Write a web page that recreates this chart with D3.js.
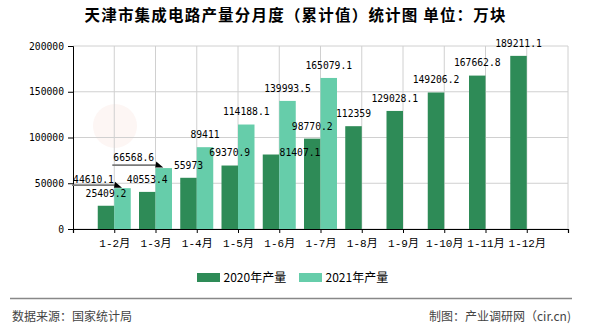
<!DOCTYPE html>
<html>
<head>
<meta charset="utf-8">
<script src="https://cdn.jsdelivr.net/npm/d3@7/dist/d3.min.js"></script>
<style>
  html, body { margin: 0; padding: 0; background: #fff; }
  svg { display: block; }
</style>
</head>
<body>
<svg id="chart" width="590" height="330"></svg>
<script>
// ---- data ----
const categories = ["1-2月","1-3月","1-4月","1-5月","1-6月","1-7月","1-8月","1-9月","1-10月","1-11月","1-12月"];
const values2020 = [25409.2, 40553.4, 55973, 69370.9, 81407.1, 98770.2, 112359, 129028.1, 149206.2, 167662.8, 189211.1];
const values2021 = [44610.1, 66568.6, 89411, 114188.1, 139993.5, 165079.1];
const yTicks = [0, 50000, 100000, 150000, 200000];
const seriesNames = ["2020年产量", "2021年产量"];
const titleText = "天津市集成电路产量分月度（累计值）统计图 单位：万块";
const sourceText = "数据来源：国家统计局";
const makerText = "制图：产业调研网（cir.cn)";

// ---- layout (label nudges, not data) ----
const shift2020 = {4: [29, 11]};
const shift2021 = {0: [-29, 4], 1: [-30, 2]};
const leaderFor2021 = [0, 1];

const colors = ["#2e8b57", "#66cdaa"];
const pL = 73, pR = 568, pT = 46, pB = 229;
const svg = d3.select("#chart");
const monoFont = "'DejaVu Sans Mono', 'Liberation Mono', monospace";
const cjkFont = "'Noto Sans CJK SC', sans-serif";

const x = d3.scalePoint().domain(categories).range([pL, pR]).padding(1);
const y = d3.scaleLinear().domain([0, 200000]).range([pB, pT]);
const barW = 16.5;

// faint watermark logo
svg.append("circle").attr("cx", 115).attr("cy", 126).attr("r", 22).attr("fill", "#fdf6f4");

// grid
svg.append("g").selectAll("line").data(yTicks).join("line")
  .attr("x1", pL).attr("x2", pR).attr("y1", d => y(d)).attr("y2", d => y(d))
  .attr("stroke", "#d0d0d0").attr("stroke-width", 1);
svg.append("g").selectAll("line").data(categories.concat(["__end"])).join("line")
  .attr("x1", d => d === "__end" ? pR : x(d)).attr("x2", d => d === "__end" ? pR : x(d))
  .attr("y1", pT).attr("y2", pB)
  .attr("stroke", "#d0d0d0").attr("stroke-width", 1);

// bars
svg.append("g").selectAll("rect").data(values2020).join("rect")
  .attr("x", (d, i) => x(categories[i]) - barW).attr("width", barW)
  .attr("y", d => y(d)).attr("height", d => pB - y(d)).attr("fill", colors[0]);
svg.append("g").selectAll("rect").data(values2021).join("rect")
  .attr("x", (d, i) => x(categories[i])).attr("width", barW)
  .attr("y", d => y(d)).attr("height", d => pB - y(d)).attr("fill", colors[1]);

// axes
const yAxis = d3.axisLeft(y).tickValues(yTicks).tickSize(5).tickPadding(4).tickFormat(d3.format("d"));
const gy = svg.append("g").attr("transform", `translate(${pL},0)`).call(yAxis);
gy.select(".domain").attr("stroke", "#000");
gy.selectAll(".tick line").attr("stroke", "#000");
gy.selectAll("text").attr("font-family", monoFont).attr("font-size", 9.7).attr("fill", "#000");

const xAxis = d3.axisBottom(x).tickSize(4).tickSizeOuter(4).tickPadding(6);
const gx = svg.append("g").attr("transform", `translate(0,${pB})`).call(xAxis);
gx.select(".domain").attr("stroke", "#000").attr("stroke-width", 1.2);
gx.selectAll(".tick line").attr("stroke", "#000");
gx.selectAll("text").attr("font-family", "'Liberation Mono', 'Noto Sans CJK SC', monospace")
  .attr("font-size", 11).attr("fill", "#000");

// data labels
function labelPos(v, i, series) {
  const cx = series === 0 ? x(categories[i]) - barW / 2 : x(categories[i]) + barW / 2;
  const sh = (series === 0 ? shift2020 : shift2021)[i] || [0, 0];
  return [cx + sh[0], y(v) - 12.5 + sh[1]];
}
const lab = svg.append("g").attr("font-family", monoFont).attr("font-size", 9.7).attr("fill", "#000").attr("text-anchor", "middle");
const fmt = v => String(v);
lab.selectAll("text.a").data(values2020).join("text").attr("class", "a")
  .attr("x", (d, i) => labelPos(d, i, 0)[0]).attr("y", (d, i) => labelPos(d, i, 0)[1])
  .attr("dy", "0.35em").text(fmt);
lab.selectAll("text.b").data(values2021).join("text").attr("class", "b")
  .attr("x", (d, i) => labelPos(d, i, 1)[0]).attr("y", (d, i) => labelPos(d, i, 1)[1])
  .attr("dy", "0.35em").text(fmt);

// leader lines
const lead = svg.append("g");
leaderFor2021.forEach(i => {
  const v = values2021[i];
  const [lx, ly] = labelPos(v, i, 1);
  const w = fmt(v).length * 5.84;
  const tipX = x(categories[i]) + barW / 2 - 0.5, tipY = y(v) - 0.5;
  const lineY = tipY - 2.5;
  lead.append("line").attr("x1", lx - w / 2 - 1).attr("x2", tipX - 6).attr("y1", lineY).attr("y2", lineY)
    .attr("stroke", "#7a7a7a").attr("stroke-width", 1.8);
  lead.append("path").attr("d", `M${tipX - 7},${tipY - 6} L${tipX},${tipY} L${tipX - 8},${tipY} Z`).attr("fill", "#000");
});

// title
svg.append("text").attr("x", 295).attr("y", 15).attr("dy", "0.36em").attr("text-anchor", "middle")
  .attr("font-family", cjkFont).attr("font-size", 15.5).attr("font-weight", "bold").attr("fill", "#000")
  .attr("textLength", 421).attr("lengthAdjust", "spacing").text(titleText);

// legend
const legendX = [197, 299];
const lg = svg.append("g");
seriesNames.forEach((n, i) => {
  lg.append("rect").attr("x", legendX[i]).attr("y", 273).attr("width", 23).attr("height", 9).attr("fill", colors[i]);
  lg.append("text").attr("x", legendX[i] + 26.5).attr("y", 277.5).attr("dy", "0.36em")
    .attr("font-family", cjkFont).attr("font-size", 12).attr("fill", "#000").text(n);
});

// footer
svg.append("line").attr("x1", 10).attr("x2", 572).attr("y1", 298.5).attr("y2", 298.5).attr("stroke", "#888").attr("stroke-width", 1.5);
svg.append("text").attr("x", 12).attr("y", 316.5).attr("dy", "0.36em").attr("font-family", cjkFont)
  .attr("font-size", 12).attr("fill", "#444").text(sourceText);
svg.append("text").attr("x", 571).attr("y", 316.5).attr("dy", "0.36em").attr("text-anchor", "end").attr("font-family", cjkFont)
  .attr("font-size", 12).attr("fill", "#444").text(makerText);
</script>
</body>
</html>
